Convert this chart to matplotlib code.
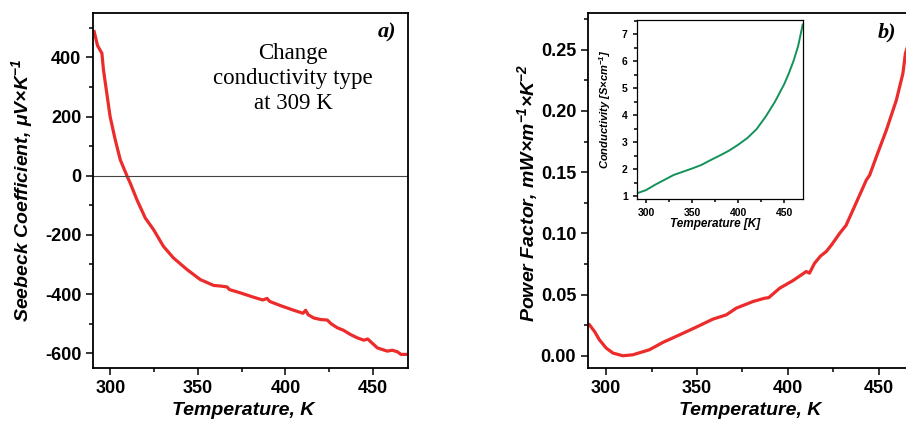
import numpy as np
import matplotlib
matplotlib.use("Agg")
import matplotlib.pyplot as plt
from matplotlib.ticker import MultipleLocator

# -----------------------------
# Data
# -----------------------------
T_seebeck = [290.7, 292.6, 295.1, 296, 297.9, 299.8, 302.7, 305.6, 309.4, 311.3, 315.1,
             319.9, 324.6, 330.3, 336, 343.7, 351.3, 359, 363, 366.6, 368, 374.2,
             381.9, 387, 389.5, 391, 397.1, 404.8, 410, 411.5, 413, 416.2, 420, 423.9,
             426, 429.6, 433, 437.2, 441, 444.8, 447, 452.5, 458.2, 461, 463.9, 466,
             469.7]
seebeck = [487, 440, 414, 358, 279, 200, 122, 54, 0, -25, -81,
           -143, -182, -239, -278, -317, -351, -371, -373, -376, -385, -396,
           -411, -420, -415, -425, -439, -455, -465, -455, -470, -481, -486, -488,
           -500, -514, -522, -537, -548, -556, -552, -582, -593, -590, -595, -604,
           -604]

T_pf = [290.8, 293.6, 296.3, 300, 303.7, 309.2, 314.7, 323.8, 331.2, 340.4, 349.6,
        358.7, 366.1, 371.6, 380.8, 387.2, 389.5, 395.5, 402.8, 410.1, 411.9, 414.7,
        418, 421.1, 424, 428.5, 432, 435.8, 443.2, 445, 448.7, 454.2, 459.7, 463.3,
        464.7, 470]
power_factor = [0.0253, 0.0198, 0.013, 0.0063, 0.0022, 0.0, 0.0008, 0.0049, 0.0109,
                0.0171, 0.0234, 0.0299, 0.0334, 0.0389, 0.0443, 0.047, 0.0475, 0.0552,
                0.0614, 0.0688, 0.0675, 0.0756, 0.0815, 0.0851, 0.0905, 0.1, 0.1065,
                0.119, 0.1436, 0.1475, 0.1626, 0.1843, 0.2088, 0.2306, 0.247, 0.272]

T_cond = [290, 300, 310, 320, 330, 340, 350, 360, 370, 380, 390, 400, 410, 420,
          430, 440, 450, 455, 460, 465, 470]
conductivity = [1.1, 1.22, 1.42, 1.6, 1.78, 1.9, 2.02, 2.15, 2.33, 2.5, 2.68, 2.9,
                3.15, 3.48, 3.95, 4.5, 5.15, 5.55, 6.0, 6.55, 7.35]

# -----------------------------
# Style
# -----------------------------
plt.rcParams["font.family"] = ["Liberation Sans", "DejaVu Sans"]
plt.rcParams["mathtext.default"] = "regular"
plt.rcParams["axes.unicode_minus"] = False
plt.rcParams["axes.linewidth"] = 1.3

red = "#ec2b2b"
green = "#12925a"
label_kw = dict(fontsize=14, fontweight="bold", fontstyle="italic")


def style_axes(ax, tick_size, major_len=5, minor_len=3):
    ax.tick_params(axis="both", which="both", direction="out", top=False, right=False,
                   labelsize=tick_size, width=1.1)
    ax.tick_params(which="major", length=major_len)
    ax.tick_params(which="minor", length=minor_len)
    for lab in ax.get_xticklabels() + ax.get_yticklabels():
        lab.set_fontweight("bold")


fig = plt.figure(figsize=(9.06, 4.21), dpi=100)

# -----------------------------
# Panel a) Seebeck coefficient
# -----------------------------
ax1 = fig.add_axes([0.1026, 0.1259, 0.3477, 0.8432])
ax1.plot(T_seebeck, seebeck, color=red, lw=2.3)
ax1.axhline(0, color="#444444", lw=0.8)
ax1.set_xlim(290, 470)
ax1.set_ylim(-650, 550)
ax1.xaxis.set_major_locator(MultipleLocator(50))
ax1.xaxis.set_minor_locator(MultipleLocator(25))
ax1.yaxis.set_major_locator(MultipleLocator(200))
ax1.yaxis.set_minor_locator(MultipleLocator(100))
style_axes(ax1, 13)
ax1.set_xlabel("Temperature, K", **label_kw)
ax1.set_ylabel("Seebeck Coefficient, μV×K$^{-1}$", **label_kw)
ax1.xaxis.set_label_coords(0.476, -0.096)
ax1.yaxis.set_label_coords(-0.185, 0.5)
ax1.text(0.933, 0.944, "a)", transform=ax1.transAxes, ha="center", va="center",
         family="Liberation Serif", fontsize=16, fontweight="bold", fontstyle="italic")
ax1.text(0.635, 0.815, "Change\nconductivity type\nat 309 K", transform=ax1.transAxes,
         ha="center", va="center", family="Liberation Serif", fontsize=16.5,
         linespacing=1.25)

# -----------------------------
# Panel b) Power factor
# -----------------------------
ax2 = fig.add_axes([0.649, 0.1259, 0.361, 0.8432])
ax2.plot(T_pf, power_factor, color=red, lw=2.3)
ax2.set_xlim(290, 470)
ax2.set_ylim(-0.01, 0.28)
ax2.xaxis.set_major_locator(MultipleLocator(50))
ax2.xaxis.set_minor_locator(MultipleLocator(25))
ax2.yaxis.set_major_locator(MultipleLocator(0.05))
ax2.yaxis.set_minor_locator(MultipleLocator(0.025))
ax2.yaxis.set_major_formatter(plt.FormatStrFormatter("%.2f"))
style_axes(ax2, 13)
ax2.set_xlabel("Temperature, K", **label_kw)
ax2.set_ylabel("Power Factor, mW×m$^{-1}$×K$^{-2}$", **label_kw)
ax2.xaxis.set_label_coords(0.495, -0.096)
ax2.yaxis.set_label_coords(-0.147, 0.493)
ax2.text(0.914, 0.944, "b)", transform=ax2.transAxes, ha="center", va="center",
         family="Liberation Serif", fontsize=16, fontweight="bold", fontstyle="italic")

# -----------------------------
# Inset: conductivity
# -----------------------------
ins = fig.add_axes([0.7028, 0.5266, 0.1832, 0.4259])
ins.plot(T_cond, conductivity, color=green, lw=1.4)
ins.set_xlim(290, 470)
ins.set_ylim(0.88, 7.52)
ins.xaxis.set_major_locator(MultipleLocator(50))
ins.xaxis.set_minor_locator(MultipleLocator(25))
ins.yaxis.set_major_locator(MultipleLocator(1))
ins.yaxis.set_minor_locator(MultipleLocator(0.5))
for sp in ins.spines.values():
    sp.set_linewidth(0.9)
style_axes(ins, 7.5, major_len=3, minor_len=2)
ins.set_xlabel("Temperature [K]", fontsize=8.5, fontweight="bold", fontstyle="italic")
ins.set_ylabel("Conductivity [S×cm$^{-1}$]", fontsize=8, fontweight="bold",
               fontstyle="italic")
ins.xaxis.set_label_coords(0.47, -0.105)
ins.yaxis.set_label_coords(-0.143, 0.5)

fig.savefig("out.png", dpi=100)
